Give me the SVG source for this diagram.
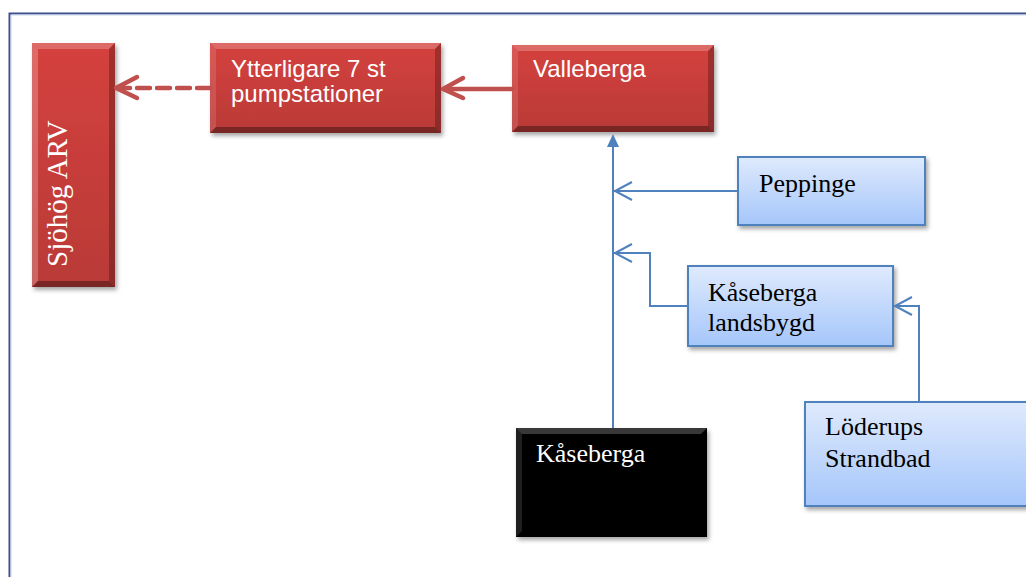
<svg xmlns="http://www.w3.org/2000/svg" width="1026" height="577" viewBox="0 0 1026 577">
<style>
.sans{font-family:"Liberation Sans",Arial,sans-serif;font-size:24px;fill:#fff}
.serif{font-family:"Liberation Serif","Times New Roman",serif;font-size:26px}
.wt{fill:#fff}
.bk{fill:#000}
.red{fill:url(#redG)}
.blue{fill:url(#blueG);stroke:#4f81bd;stroke-width:2}
.blk{fill:#050505}
.hl{fill:#fff;opacity:0.22}
.hl2{fill:#fff;opacity:0.12}
.dk{fill:#000;opacity:0.25}
.dk2{fill:#000;opacity:0.35}
.rline{fill:none;stroke:#c0504d;stroke-width:4.5;stroke-linecap:round;stroke-linejoin:round}
.bline{fill:none;stroke:#4f81bd;stroke-width:2}
</style>
<defs>
<linearGradient id="redG" x1="0" y1="0" x2="0" y2="1">
<stop offset="0" stop-color="#d4413e"/>
<stop offset="1" stop-color="#b93a37"/>
</linearGradient>
<linearGradient id="blueG" x1="0" y1="0" x2="0" y2="1">
<stop offset="0" stop-color="#dfeafd"/>
<stop offset="1" stop-color="#a5c6fa"/>
</linearGradient>
<filter id="sh" x="-10%" y="-10%" width="130%" height="130%">
<feDropShadow dx="2" dy="3" stdDeviation="2" flood-color="#000" flood-opacity="0.35"/>
</filter>
</defs>
<rect width="1026" height="577" fill="#fff"/>
<path d="M9.5 580 V13.5 H1030" fill="none" stroke="#3b4f8c" stroke-width="2"/>
<path d="M11 580 V15 H1030" fill="none" stroke="#c9d3ea" stroke-width="1"/>

<g id="node-sjohog">
<rect x="32" y="43" width="83" height="244" class="red" filter="url(#sh)"/>
<polygon points="32,43 115,43 109,49 38,49" class="hl"/>
<polygon points="32,43 38,49 38,281 32,287" class="hl"/>
<polygon points="115,43 115,287 109,281 109,49" class="dk"/>
<polygon points="32,287 115,287 109,281 38,281" class="dk2"/>
<text class="serif wt" style="font-size:29px" transform="translate(67,267) rotate(-90)">Sjöhög ARV</text>
</g>

<g id="node-ytterligare">
<rect x="210" y="43" width="231" height="90" class="red" filter="url(#sh)"/>
<polygon points="210,43 441,43 435,49 216,49" class="hl"/>
<polygon points="210,43 216,49 216,127 210,133" class="hl2"/>
<polygon points="441,43 441,133 435,127 435,49" class="dk"/>
<polygon points="210,133 441,133 435,127 216,127" class="dk2"/>
<text class="sans" x="231" y="77">Ytterligare 7 st</text>
<text class="sans" x="231" y="102">pumpstationer</text>
</g>

<g id="node-valleberga">
<rect x="512" y="45" width="202" height="87" class="red" filter="url(#sh)"/>
<polygon points="512,45 714,45 708,51 518,51" class="hl"/>
<polygon points="512,45 518,51 518,126 512,132" class="hl2"/>
<polygon points="714,45 714,132 708,126 708,51" class="dk"/>
<polygon points="512,132 714,132 708,126 518,126" class="dk2"/>
<text class="sans" x="533" y="77">Valleberga</text>
</g>

<g id="node-peppinge">
<rect x="738" y="157" width="187" height="68" class="blue" filter="url(#sh)"/>
<text class="serif bk" x="759" y="192">Peppinge</text>
</g>

<g id="node-kaseberga-landsbygd">
<rect x="688" y="266" width="205" height="80" class="blue" filter="url(#sh)"/>
<text class="serif bk" x="708" y="301">Kåseberga</text>
<text class="serif bk" x="708" y="331">landsbygd</text>
</g>

<g id="node-loderups">
<rect x="805" y="402" width="230" height="104" class="blue" filter="url(#sh)"/>
<text class="serif bk" x="825" y="435">Löderups</text>
<text class="serif bk" x="825" y="467">Strandbad</text>
</g>

<g id="node-kaseberga">
<rect x="516" y="428" width="191" height="109" class="blk" filter="url(#sh)"/>
<polygon points="516,428 707,428 701,434 522,434" class="hl" opacity="0.1"/>
<polygon points="516,428 522,434 522,531 516,537" class="hl2"/>
<text class="serif wt" x="536" y="462">Kåseberga</text>
</g>

<g id="connectors">
<path d="M210 88 H119" class="rline" stroke-dasharray="13 7" stroke-linecap="butt"/>
<path d="M137 77 L116 88 L137 98" class="rline"/>
<path d="M512 89 H446" class="rline"/>
<path d="M463 78 L443 89 L463 98" class="rline"/>
<path d="M613 428 V145" class="bline"/>
<polygon points="613,134 607,147 619,147" fill="#4f81bd"/>
<path d="M738 191 H614" class="bline"/>
<path d="M632 182 L615 191 L632 200" class="bline"/>
<path d="M688 306 H650 V253 H614" class="bline"/>
<path d="M632 244 L615 253 L632 262" class="bline"/>
<path d="M919 402 V306 H894" class="bline"/>
<path d="M912 297 L895 306 L912 315" class="bline"/>
</g>
</svg>
